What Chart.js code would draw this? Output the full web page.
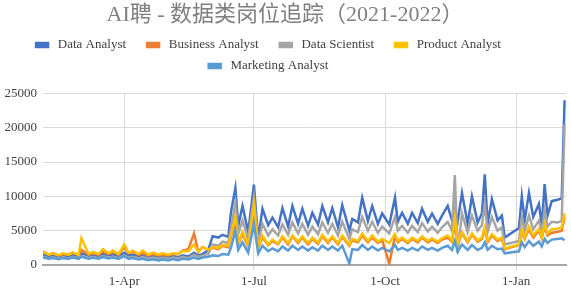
<!DOCTYPE html>
<html>
<head>
<meta charset="utf-8">
<script src="https://cdn.jsdelivr.net/npm/chart.js@4.4.1/dist/chart.umd.min.js"></script>
<style>
    html, body { margin: 0; padding: 0; background: #fff; }
    #wrap { width: 571px; height: 292px; }
</style>
</head>
<body>
<div id="wrap"><canvas id="jobs-chart"></canvas></div>
<script>
// Sampled posting dates (roughly two per week, with the spikes kept)
const dates = [
    '2021-02-03', '2021-02-07', '2021-02-10', '2021-02-14', '2021-02-17', '2021-02-21', '2021-02-24', '2021-02-28',
    '2021-03-02', '2021-03-07', '2021-03-10', '2021-03-14', '2021-03-17', '2021-03-21', '2021-03-24', '2021-03-28',
    '2021-04-01', '2021-04-04', '2021-04-07', '2021-04-11', '2021-04-14', '2021-04-18', '2021-04-21', '2021-04-25',
    '2021-04-28', '2021-05-02', '2021-05-05', '2021-05-09', '2021-05-12', '2021-05-16', '2021-05-20', '2021-05-23',
    '2021-05-26', '2021-05-30', '2021-06-02', '2021-06-06', '2021-06-09', '2021-06-13', '2021-06-15', '2021-06-18',
    '2021-06-20', '2021-06-23', '2021-06-27', '2021-07-01', '2021-07-04', '2021-07-07', '2021-07-11', '2021-07-14',
    '2021-07-18', '2021-07-21', '2021-07-25', '2021-07-28', '2021-08-01', '2021-08-04', '2021-08-08', '2021-08-11',
    '2021-08-15', '2021-08-18', '2021-08-22', '2021-08-25', '2021-08-29', '2021-09-01', '2021-09-06', '2021-09-08',
    '2021-09-12', '2021-09-15', '2021-09-19', '2021-09-22', '2021-09-26', '2021-09-29', '2021-10-04', '2021-10-08',
    '2021-10-10', '2021-10-13', '2021-10-17', '2021-10-20', '2021-10-24', '2021-10-27', '2021-10-31', '2021-11-03',
    '2021-11-07', '2021-11-10', '2021-11-14', '2021-11-17', '2021-11-19', '2021-11-21', '2021-11-24', '2021-11-28',
    '2021-12-01', '2021-12-05', '2021-12-08', '2021-12-10', '2021-12-12', '2021-12-15', '2021-12-19', '2021-12-22',
    '2021-12-24', '2022-01-03', '2022-01-05', '2022-01-07', '2022-01-10', '2022-01-13', '2022-01-17', '2022-01-19',
    '2022-01-21', '2022-01-23', '2022-01-26', '2022-01-30', '2022-02-02', '2022-02-04',
];

const dataAnalyst = [
    1500, 1300, 1400, 1200, 1450, 1250, 1500, 1300, 1700, 1350, 1500, 1300, 1600, 1400, 1550, 1300,
    1800, 1400, 1500, 1300, 1400, 1200, 1350, 1150, 1300, 1100, 1300, 1150, 1400, 1250, 1800, 1400,
    1600, 2200, 4200, 4000, 4400, 4100, 7800, 11200, 5700, 8600, 4800, 11700, 3800, 8200,
    5800, 6900, 5500, 8300, 5600, 8600, 6000, 8200, 5700, 7600, 5900, 8600, 6200, 8300, 5500, 8700,
    5000, 6700, 6200, 9800, 6400, 8600, 6000, 7500, 5900, 9800, 6300, 7600, 6000, 7600, 6100, 8200,
    6300, 7500, 6000, 7200, 8600, 6500, 8000, 6400, 10500, 6000, 10000, 6200, 7500, 13200, 6000, 9600,
    6500, 7200, 4000, 5400, 10000, 6500, 10500, 7000, 8900, 5800, 11800, 7200, 9300, 9500, 9700, 24000,
];

const businessAnalyst = [
    2000, 1500, 1700, 1400, 1600, 1500, 1800, 1400, 2200, 1500, 1700, 1500, 2000, 1600, 1900, 1500,
    2600, 1700, 1900, 1500, 1700, 1400, 1600, 1400, 1500, 1400, 1600, 1600, 2100, 2300, 4600, 1900,
    2600, 2200, 2500, 2300, 2800, 2600, 4200, 6000, 3000, 4500, 2700, 8000, 2500, 4000,
    2900, 3500, 3000, 4000, 3000, 4200, 3200, 4000, 3000, 3800, 3100, 4200, 3200, 4000, 3000, 4100,
    2800, 3600, 3300, 4300, 3300, 4000, 3200, 3600, 200, 4200, 3300, 3800, 3200, 3800, 3300, 4000,
    3300, 3700, 3200, 3700, 4000, 3400, 6000, 3000, 4600, 3300, 4400, 3400, 3800, 5200, 3300, 4300,
    3500, 3800, 2300, 2900, 4800, 3800, 5200, 4000, 5000, 3900, 5600, 4300, 4700, 4800, 5000, 7000,
];

const dataScientist = [
    1200, 1000, 1100, 900, 1100, 950, 1200, 1000, 1300, 1000, 1200, 1000, 1300, 1050, 1200, 1000,
    1400, 1050, 1200, 1000, 1150, 950, 1100, 900, 1050, 900, 1100, 950, 1200, 1000, 1500, 1200,
    1400, 1600, 3000, 2800, 3400, 3200, 5500, 9000, 4500, 6500, 3800, 9800, 3200, 6000,
    4300, 5200, 4300, 5900, 4400, 6200, 4600, 6000, 4400, 5600, 4500, 6200, 4700, 6000, 4300, 6300,
    3800, 5200, 4800, 7000, 5000, 6300, 4700, 5600, 4600, 7000, 5000, 5700, 4700, 5700, 4800, 6100,
    4900, 5600, 4700, 5500, 6300, 5000, 13100, 1800, 7500, 4800, 7200, 5000, 5800, 9000, 4800, 7000,
    5000, 5500, 3000, 3500, 7000, 5000, 7200, 5200, 6500, 4800, 8000, 5600, 6300, 6200, 6400, 20500,
];

const productAnalyst = [
    1900, 1500, 1700, 1400, 1700, 1500, 1800, 1500, 3900, 1600, 1900, 1600, 2300, 1700, 2100, 1600,
    3000, 1800, 2100, 1600, 2100, 1500, 1800, 1500, 1700, 1500, 1700, 1600, 2000, 2000, 3000, 1900,
    2600, 2200, 2600, 2500, 2900, 2800, 4500, 7000, 3200, 4800, 2900, 8800, 2700, 4300,
    3000, 3700, 3100, 4200, 3200, 4300, 3400, 4200, 3200, 4000, 3300, 4400, 3400, 4200, 3200, 4300,
    3000, 3800, 3500, 4600, 3500, 4300, 3400, 3800, 3200, 4500, 3500, 4000, 3400, 4000, 3500, 4200,
    3500, 3900, 3400, 3900, 4300, 3600, 6900, 3200, 4800, 3500, 4600, 3600, 4000, 5500, 3500, 4500,
    3700, 4000, 2400, 3000, 5200, 4000, 5600, 4300, 5300, 4000, 6000, 4600, 5200, 5300, 5500, 7500,
];

const marketingAnalyst = [
    1100, 900, 1000, 850, 1000, 900, 1100, 900, 1200, 900, 1050, 900, 1150, 950, 1100, 900,
    1300, 900, 1000, 800, 900, 700, 850, 650, 800, 650, 850, 700, 900, 800, 1100, 900,
    1100, 1200, 1400, 1300, 1600, 1500, 2600, 5000, 2200, 3300, 1800, 6000, 1700, 2800,
    2000, 2400, 2000, 2700, 2100, 2800, 2200, 2700, 2100, 2600, 2100, 2800, 2200, 2700, 2100, 2800,
    200, 2300, 2200, 2900, 2200, 2700, 2100, 2500, 2000, 2900, 2200, 2500, 2100, 2500, 2100, 2700,
    2200, 2500, 2100, 2500, 2800, 2200, 3500, 1900, 3000, 2200, 2900, 2200, 2500, 3300, 2200, 2800,
    2300, 2400, 1700, 2000, 3300, 2600, 3500, 2800, 3400, 2700, 3800, 3200, 3700, 3800, 3900, 3600,
];

const seriesNames = ['Data Analyst', 'Business Analyst', 'Data Scientist', 'Product Analyst', 'Marketing Analyst'];
const seriesColors = ['#4472C4', '#ED7D31', '#A5A5A5', '#FFC000', '#5B9BD5'];
const seriesValues = [dataAnalyst, businessAnalyst, dataScientist, productAnalyst, marketingAnalyst];

const axisStart = '2021-02-03';
const axisEnd = '2022-02-05';
const tickDates = ['2021-04-01', '2021-07-01', '2021-10-01', '2022-01-01'];
const tickLabels = ['1-Apr', '1-Jul', '1-Oct', '1-Jan'];
const yTicks = [0, 5000, 10000, 15000, 20000, 25000];

const serif = "'Liberation Serif', 'Times New Roman', serif";

function dayOf(date) {
    return Math.round((Date.parse(date) - Date.parse(axisStart)) / 86400000);
}

function buildDatasets() {
    return seriesNames.map((name, i) => ({
        label: ' ' + name + '    ',
        data: seriesValues[i].map((v, k) => ({x: dayOf(dates[k]), y: v})),
        borderColor: seriesColors[i],
        backgroundColor: seriesColors[i],
        borderWidth: 2.5,
        pointRadius: 0,
        tension: 0,
        order: seriesNames.length - i,
    }));
}

const tickDays = tickDates.map(dayOf);

// extra room under the legend, and the legend sits a bit left of centre like the original
const legendTweak = {
    id: 'legendTweak',
    beforeLayout(chart) {
        const legend = chart.legend;
        if (!legend || legend._tweaked) {
            return;
        }
        const fit = legend.fit;
        legend.fit = function () {
            fit.call(this);
            this.height += 11;
        };
        legend._tweaked = true;
    },
    afterLayout(chart) {
        const legend = chart.legend;
        if (legend) {
            legend.left -= 10;
            legend.right -= 10;
        }
    },
};

new Chart(document.getElementById('jobs-chart'), {
    type: 'line',
    data: {datasets: buildDatasets()},
    plugins: [legendTweak],
    options: {
        responsive: true,
        maintainAspectRatio: false,
        animation: false,
        layout: {padding: {left: 4, right: 5, top: 0, bottom: 0}},
        plugins: {
            title: {
                display: true,
                text: 'AI聘 - 数据类岗位追踪（2021-2022）',
                color: '#7F7F7F',
                font: {family: serif + ", 'Noto Sans CJK SC'", size: 22, weight: 'normal'},
                padding: {top: 2, bottom: 2},
            },
            legend: {
                position: 'top',
                labels: {
                    color: '#404040',
                    font: {family: serif, size: 13},
                    boxWidth: 12,
                    boxHeight: 4,
                    padding: 8,
                    sort: (a, b) => a.datasetIndex - b.datasetIndex,
                },
            },
            tooltip: {enabled: false},
        },
        scales: {
            x: {
                type: 'linear',
                min: 0,
                max: dayOf(axisEnd),
                afterBuildTicks: (scale) => {
                    scale.ticks = tickDays.map((v) => ({value: v}));
                },
                afterFit: (scale) => {
                    scale.height = 27;
                },
                ticks: {
                    autoSkip: false,
                    maxRotation: 0,
                    color: '#404040',
                    font: {family: serif, size: 13},
                    callback: (value) => tickLabels[tickDays.indexOf(value)] ?? '',
                },
                grid: {color: '#D9D9D9', lineWidth: 1, tickLength: 6},
                border: {color: '#A6A6A6', width: 2},
            },
            y: {
                min: 0,
                max: 25000,
                afterBuildTicks: (scale) => {
                    scale.ticks = yTicks.map((v) => ({value: v}));
                },
                afterFit: (scale) => {
                    scale.width = 39;
                },
                ticks: {
                    color: '#404040',
                    font: {family: serif, size: 13},
                    padding: 6,
                    callback: (value) => String(value),
                },
                grid: {color: '#D9D9D9', lineWidth: 1, drawTicks: false},
                border: {display: false},
            },
        },
    },
});
</script>
</body>
</html>
